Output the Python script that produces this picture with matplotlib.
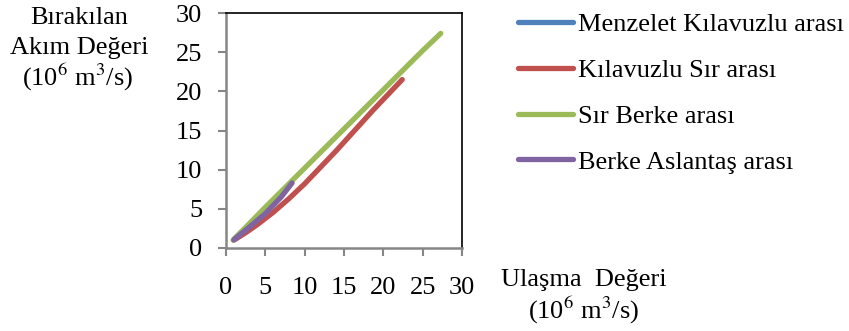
import matplotlib
matplotlib.use("Agg")
import matplotlib.pyplot as plt

plt.rcParams["font.family"] = ["Liberation Serif", "DejaVu Serif"]

# --------------------------------------------------------------------------- #
# data (10^6 m3/s)
# --------------------------------------------------------------------------- #
series_names = ["Menzelet Kılavuzlu arası", "Kılavuzlu Sır arası",
                "Sır Berke arası", "Berke Aslantaş arası"]
colors = ["#4F81BD", "#C0504D", "#9BBB59", "#8064A2"]

menzelet_x = [1.0, 1.5, 2.0]
menzelet_y = [1.1, 1.6, 2.1]

kilavuzlu_x = [1.0, 2.5, 4.0, 6.0, 8.0, 10.0, 12.0, 14.0, 18.7, 22.4]
kilavuzlu_y = [1.0, 1.95, 3.0, 4.55, 6.3, 8.2, 10.3, 12.4, 17.6, 21.5]

sir_x = [0.9, 5.0, 10.0, 15.0, 20.0, 25.0, 27.3]
sir_y = [1.0, 5.2, 10.2, 15.2, 20.2, 25.2, 27.4]

berke_x = [1.0, 3.0, 5.0, 7.0, 8.4]
berke_y = [1.05, 2.7, 4.4, 6.5, 8.3]

ticks = [0, 5, 10, 15, 20, 25, 30]

# --------------------------------------------------------------------------- #
# plotting
# --------------------------------------------------------------------------- #
W, H = 849, 331
FS = 19
fig = plt.figure(figsize=(W / 100, H / 100), dpi=100)
ax = fig.add_axes([226 / W, (H - 248) / H, 236 / W, 235 / H])

data = [(menzelet_x, menzelet_y), (kilavuzlu_x, kilavuzlu_y),
        (sir_x, sir_y), (berke_x, berke_y)]
for (xs, ys), name, c in zip(data, series_names, colors):
    ax.plot(xs, ys, color=c, lw=3.8, solid_capstyle="round",
            solid_joinstyle="round", label=name)

ax.set_xlim(0, 30)
ax.set_ylim(0, 30)
ax.set_xticks(ticks)
ax.set_yticks(ticks)
ax.tick_params(axis="both", direction="out", length=6, width=1.5,
               color="#868686", labelsize=FS)
ax.tick_params(axis="x", pad=15)
ax.tick_params(axis="y", pad=11)
for s in ["left", "bottom"]:
    ax.spines[s].set_color("#868686")
    ax.spines[s].set_linewidth(1.8)
for s in ["top", "right"]:
    ax.spines[s].set_color("black")
    ax.spines[s].set_linewidth(1.2)

# axis titles (Excel-style free text)
fig.text(79 / W, 1 - 18 / H, "Bırakılan", ha="center", va="center", fontsize=FS)
fig.text(79 / W, 1 - 48 / H, "Akım Değeri", ha="center", va="center", fontsize=FS)
fig.text(78 / W, 1 - 77 / H, "(10$^{6}$ m$^{3}$/s)", ha="center", va="center",
         fontsize=FS, math_fontfamily="stix")
fig.text(584 / W, 1 - 280 / H, "Ulaşma  Değeri", ha="center", va="center", fontsize=FS)
fig.text(584 / W, 1 - 310 / H, "(10$^{6}$ m$^{3}$/s)", ha="center", va="center",
         fontsize=FS, math_fontfamily="stix")

leg = fig.legend(loc="upper left", bbox_to_anchor=(500 / W, 1 + 6 / H),
                 frameon=False, fontsize=FS, handlelength=2.05,
                 handletextpad=0.2, labelspacing=0.85, borderpad=0.2)
for h in leg.get_lines():
    h.set_linewidth(3.8)

fig.savefig("out.png", dpi=100)
